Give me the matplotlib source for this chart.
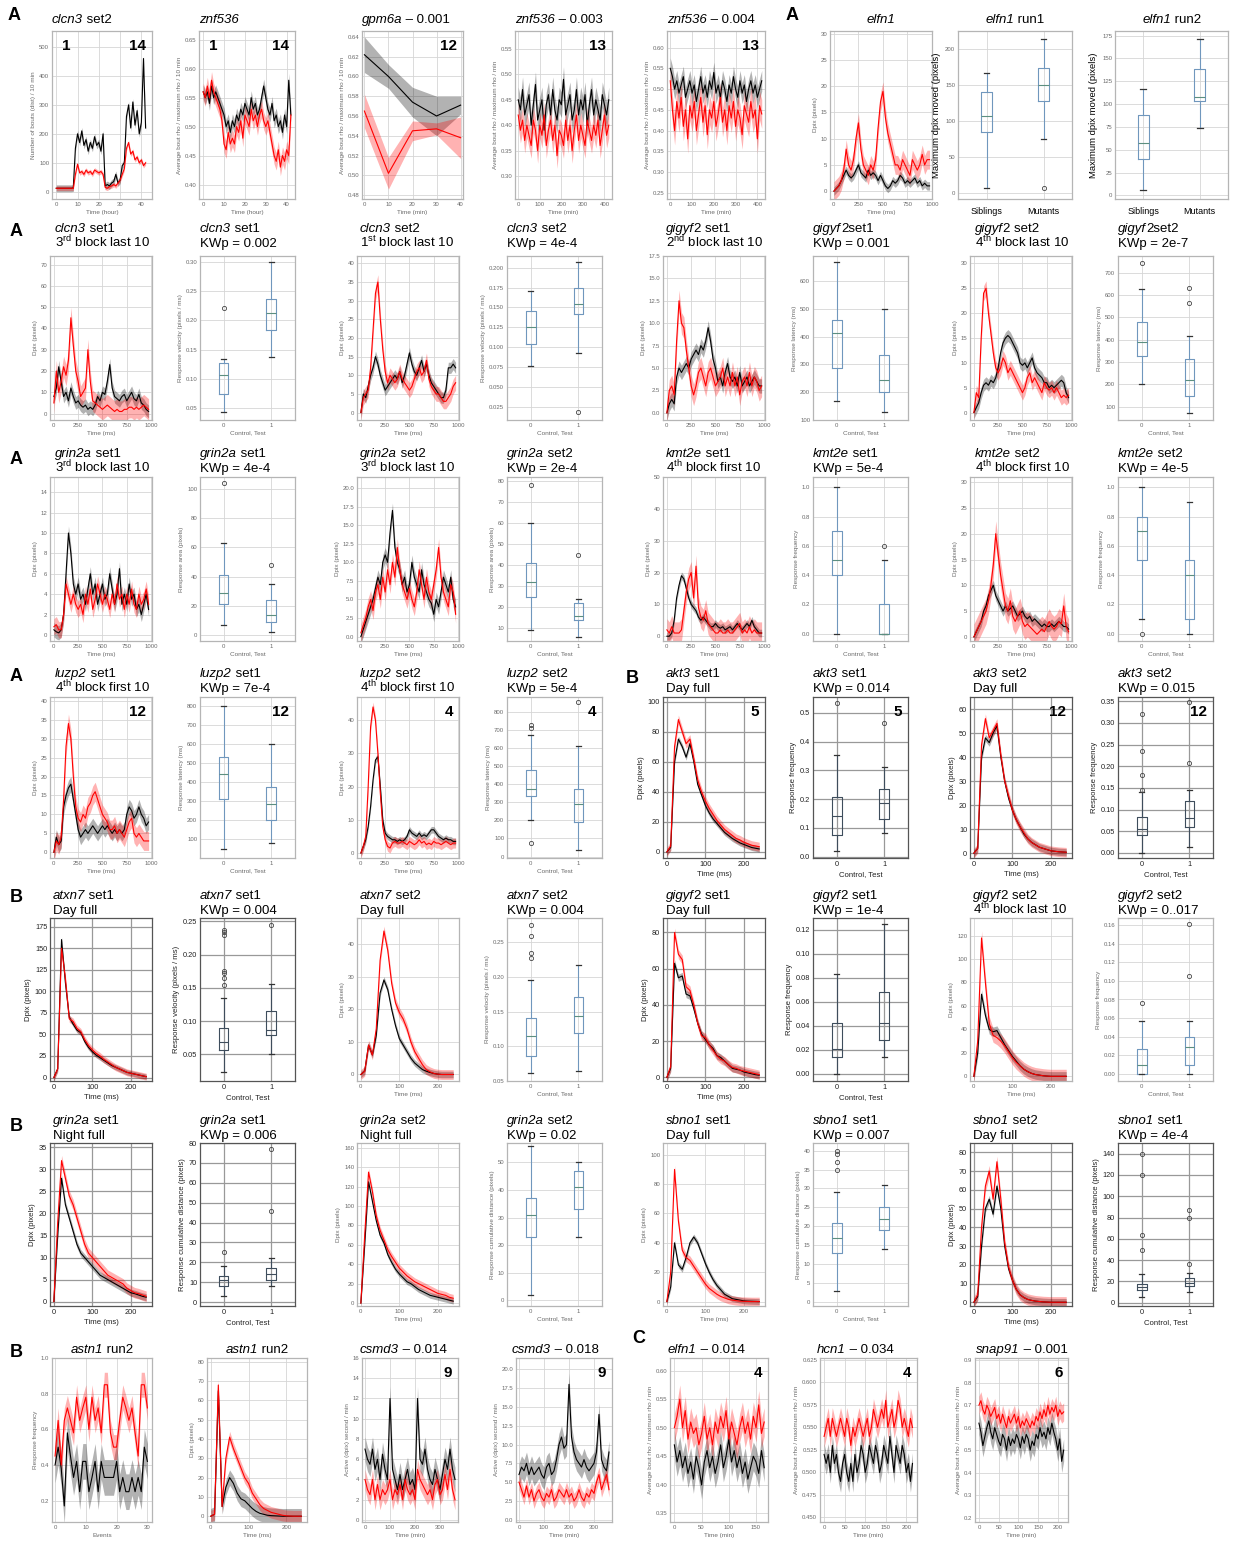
import numpy as np
import matplotlib
matplotlib.use("Agg")
import matplotlib.pyplot as plt

plt.rcParams['font.family'] = ['Liberation Sans', 'DejaVu Sans']
plt.rcParams['mathtext.fontset'] = 'custom'
plt.rcParams['mathtext.rm'] = 'Liberation Sans'
plt.rcParams['mathtext.it'] = 'Liberation Sans:italic'
plt.rcParams['mathtext.bf'] = 'Liberation Sans:bold'

# ---------------- data ----------------
# sampling grids
t_ms = np.arange(0, 1000, 25)      # 1 s response traces
t_day = np.arange(0, 250, 10)      # 250 ms response traces
t_hour = np.arange(0, 43)          # hours
t_min420 = np.arange(0, 430, 10)
t_min360 = np.arange(0, 370, 10)
t_min165 = np.arange(0, 170, 5)
t_min215 = np.arange(0, 220, 5)
t_gpm = [0, 10, 20, 30, 40]
events = np.arange(0, 31)

# row 1
clcn3_set2_blk = [12, 12, 12, 12, 12, 12, 12, 12, 13,
                  150, 200, 170, 210, 160, 180, 140, 170, 150, 190, 160, 170, 140, 200,
                  20, 25, 20, 30, 35, 60, 30, 40,
                  90, 100, 260, 300, 220, 310, 230, 280, 200, 240, 460, 220]
clcn3_set2_red = [12, 12, 12, 12, 12, 12, 12, 12, 12,
                  60, 95, 65, 70, 60, 75, 65, 70, 60, 75, 70, 65, 70, 60,
                  15, 12, 18, 20, 25, 20, 30, 40,
                  60, 80, 150, 170, 130, 140, 110, 120, 100, 110, 90, 100]
znf536_blk = [0.56, 0.55, 0.56, 0.54, 0.57, 0.55, 0.56, 0.55, 0.54, 0.53,
              0.52, 0.50, 0.51, 0.49, 0.51, 0.50, 0.52, 0.51, 0.53, 0.52,
              0.54, 0.53, 0.52, 0.55, 0.53, 0.54, 0.52, 0.53, 0.55, 0.57,
              0.55, 0.53, 0.52, 0.54, 0.51, 0.52, 0.50, 0.51, 0.49, 0.52,
              0.50, 0.58, 0.52]
znf536_red = [0.56, 0.55, 0.57, 0.55, 0.58, 0.56, 0.55, 0.54, 0.53, 0.51,
              0.47, 0.46, 0.49, 0.47, 0.48, 0.47, 0.50, 0.49, 0.51, 0.48,
              0.52, 0.51, 0.50, 0.53, 0.51, 0.52, 0.50, 0.52, 0.53, 0.51,
              0.50, 0.51, 0.49, 0.47, 0.45, 0.44, 0.46, 0.43, 0.45, 0.44,
              0.46, 0.45, 0.52]
gpm6a_blk = [0.622, 0.600, 0.574, 0.560, 0.571]
gpm6a_blk_sem = [0.018, 0.012, 0.015, 0.020, 0.009]
gpm6a_red = [0.565, 0.502, 0.545, 0.547, 0.538]
gpm6a_red_sem = [0.017, 0.016, 0.010, 0.006, 0.021]
znf536_003_blk = [0.45, 0.43, 0.47, 0.42, 0.44, 0.46, 0.40, 0.44, 0.48, 0.41,
                  0.43, 0.45, 0.39, 0.44, 0.46, 0.42, 0.47, 0.43, 0.41, 0.45,
                  0.44, 0.49, 0.42, 0.44, 0.46, 0.41, 0.43, 0.47, 0.42, 0.45,
                  0.43, 0.46, 0.40, 0.44, 0.47, 0.42, 0.45, 0.43, 0.41, 0.46,
                  0.44, 0.42, 0.45]
znf536_003_red = [0.42, 0.39, 0.41, 0.37, 0.40, 0.38, 0.36, 0.41, 0.39, 0.35,
                  0.40, 0.38, 0.42, 0.36, 0.39, 0.41, 0.37, 0.40, 0.34, 0.39,
                  0.38, 0.36, 0.41, 0.37, 0.40, 0.35, 0.39, 0.42, 0.37, 0.40,
                  0.38, 0.36, 0.41, 0.39, 0.37, 0.40, 0.38, 0.41, 0.36, 0.39,
                  0.42, 0.38, 0.40]
znf536_004_blk = [0.55, 0.53, 0.50, 0.52, 0.49, 0.51, 0.53, 0.48, 0.50, 0.52,
                  0.49, 0.51, 0.47, 0.50, 0.53, 0.49, 0.51, 0.48, 0.52, 0.50,
                  0.54, 0.49, 0.51, 0.48, 0.52, 0.50, 0.47, 0.51, 0.49, 0.53,
                  0.50, 0.48, 0.52, 0.49, 0.51, 0.47, 0.50, 0.52, 0.49, 0.51,
                  0.48, 0.50, 0.52]
znf536_004_red = [0.52, 0.45, 0.40, 0.47, 0.43, 0.48, 0.41, 0.45, 0.38, 0.46,
                  0.43, 0.47, 0.40, 0.44, 0.48, 0.42, 0.46, 0.39, 0.45, 0.43,
                  0.47, 0.41, 0.44, 0.48, 0.42, 0.45, 0.40, 0.46, 0.43, 0.47,
                  0.41, 0.45, 0.43, 0.39, 0.46, 0.44, 0.42, 0.47, 0.43, 0.45,
                  0.38, 0.46, 0.44]
elfn1_blk = [0, 0.5, 1, 2, 3, 4, 3, 2.5, 3, 4, 5, 3.5, 3, 2.5, 4, 3, 3.5, 3, 2, 3,
             2, 1, 0.5, 1, 2, 1.5, 2, 3, 2.5, 1.5, 2, 1.5, 2, 2.5, 1.5, 2, 1, 1.5, 1, 1]
elfn1_red = [0, 0.5, 1, 2, 4, 8, 5, 4, 6, 10, 13, 8, 5, 4, 3, 5, 4, 6, 12, 17,
             19, 14, 11, 9, 7, 5, 5, 4, 6, 5, 4, 3, 6, 5, 4, 5, 7, 5, 6, 6]
# box stats: (whisker low, q1, median, q3, whisker high, fliers)
elfn1_run1 = [(7, 85, 107, 140, 167, []), (75, 128, 150, 174, 214, [7])]
elfn1_run2 = [(6, 40, 57, 88, 116, []), (74, 103, 108, 138, 171, [])]

# row 2
clcn3_s1_blk = [8, 12, 22, 15, 8, 10, 6, 12, 8, 5, 6, 4, 3, 4, 2, 3, 2, 4, 8, 6,
                10, 9, 15, 23, 12, 8, 7, 6, 8, 9, 6, 8, 10, 7, 6, 9, 5, 4, 2, 1]
clcn3_s1_red = [5, 20, 10, 15, 22, 18, 25, 45, 32, 20, 15, 8, 10, 12, 30, 15, 6, 5, 4, 3,
                2, 3, 4, 3, 2, 1, 2, 1, 1, 2, 2, 3, 3, 2, 3, 2, 3, 4, 3, 2]
clcn3_s1_kw = [(0.044, 0.075, 0.106, 0.127, 0.135, [0.222]),
               (0.138, 0.183, 0.212, 0.236, 0.300, [])]
clcn3_s2_blk = [0, 5, 4, 7, 10, 12, 15, 13, 10, 8, 6, 7, 8, 9, 10, 9, 11, 8, 10, 13,
                16, 13, 11, 10, 12, 14, 11, 13, 10, 8, 7, 6, 5, 4, 4, 6, 12, 12, 13, 12]
clcn3_s2_red = [0, 4, 5, 6, 12, 22, 32, 35, 25, 17, 11, 8, 10, 9, 8, 9, 11, 9, 8, 7,
                6, 7, 9, 11, 12, 10, 11, 14, 9, 7, 6, 5, 5, 4, 3, 3, 4, 5, 7, 8]
clcn3_s2_kw = [(0.076, 0.104, 0.125, 0.145, 0.171, []),
               (0.093, 0.142, 0.155, 0.175, 0.208, [0.018])]
gigyf2_s1_blk = [0, 1, 1.5, 1, 4, 5, 4.5, 5, 5.5, 5, 6, 6.5, 7, 6.5, 7.5, 7, 8, 9.5, 8, 6,
                 5, 3.5, 4, 3, 4.5, 5.5, 4, 3.5, 4, 3, 4.5, 3, 3.5, 4, 3, 3.5, 4, 3.5, 3, 3]
gigyf2_s1_red = [0, 2.5, 3, 2, 8, 12.5, 10, 9.5, 7, 5, 3, 2, 3, 4.5, 5, 4, 3, 4.5, 5, 4,
                 3, 3.5, 4, 5, 3, 4, 3, 4.5, 3, 4, 2, 3.5, 4, 3, 4.5, 3, 4, 3.5, 2.5, 3]
gigyf2_s1_kw = [(167, 287, 413, 460, 667, []), (127, 200, 243, 335, 500, [])]
gigyf2_s2_blk = [0, 1, 2, 4, 5.5, 6, 5.5, 6.5, 6, 7, 9, 12, 14, 15, 15.5, 15, 14, 13, 12, 10,
                 9.5, 10, 9, 10, 11, 9, 8, 7.5, 7, 6, 6, 5, 5.5, 5, 5.5, 6, 6.5, 6, 4, 3]
gigyf2_s2_red = [0, 4, 3, 15, 24, 25, 20, 16, 12, 9, 8, 9, 11, 10, 8, 9, 8, 7, 6, 5,
                 4, 5, 7, 8, 6, 7, 6, 5, 4, 6, 5, 4.5, 5, 4, 5, 4, 3, 3.5, 3, 3.5]
gigyf2_s2_kw = [(200, 325, 390, 480, 625, [745]), (70, 148, 220, 312, 415, [565, 632])]

# row 3
grin2a_s1_blk = [0.5, 0.3, 0.2, 0.5, 2, 6, 10, 8, 5, 4, 5, 3.5, 4, 3, 4.5, 6, 4, 5, 3, 4,
                 5, 3.5, 4, 6, 4.5, 3, 4, 6.5, 3, 4, 3, 5, 3.5, 4, 2.5, 3, 2, 3, 4, 2.5]
grin2a_s1_red = [0.8, 1, 0.5, 0.5, 2, 5, 4, 3, 4, 3, 2.5, 3, 2, 4, 3, 4.5, 2.5, 3.5, 5, 4,
                 3, 4, 3.5, 2.5, 4, 3, 5, 3.5, 4, 2.5, 4, 3, 4.5, 3, 2.5, 4, 3, 3.5, 4.5, 3]
grin2a_s1_kw = [(7, 21, 29, 41, 63, [104]), (2, 9, 14, 24, 35, [48])]
grin2a_s2_blk = [0, 1, 2, 3, 4, 5, 6.5, 8, 7, 10, 11, 10, 14, 17, 12, 10, 9, 7, 8, 6,
                 7, 10, 8, 7, 6, 9, 7, 6, 5, 4.5, 3, 5, 4, 6, 8, 7, 6, 8, 5, 4]
grin2a_s2_red = [0.5, 1.5, 2.5, 4, 5, 3.5, 6, 7, 5, 8, 6, 9, 7, 10, 8, 12, 9, 7, 6, 5,
                 6.5, 5, 4, 6, 9, 7, 5, 8, 6, 5, 7, 9, 12, 8, 6, 5, 4, 7, 6, 3]
grin2a_s2_kw = [(9, 25, 32, 41, 60, [78]), (6, 14, 16, 22, 24, [45])]
kmt2e_s1_blk = [0, 0, 1, 5, 12, 16, 19, 18, 15, 12, 10, 9, 8, 6, 5, 6, 5, 4, 3, 3,
                4, 3, 2.5, 3, 2, 2.5, 3, 2, 3, 4, 3, 2, 3, 4, 3, 5, 3, 2, 1, 1]
kmt2e_s1_red = [2, 1, 3, 1, 1, 1, 2, 8, 14, 18, 20, 12, 22, 9, 6, 5, 8, 4, 3, 2,
                1, 1, 2, 1, 1, 2, 1, 1, 2, 3, 4, 1, 2, 1, 3, 1, 2, 1, 1, 1]
kmt2e_s1_kw = [(0, 0.4, 0.5, 0.7, 1.0, []), (0, 0, 0, 0.2, 0.5, [0.6])]
kmt2e_s2_blk = [0, 1, 2, 3, 5, 6, 8, 9, 10, 8, 7, 6, 5, 6, 5, 5.5, 6, 5, 4, 4.5,
                5, 4, 3.5, 4, 3, 3.5, 3, 2.5, 2, 2.5, 2, 2, 2.5, 2, 2.5, 3, 2.5, 2, 2, 1.5]
kmt2e_s2_red = [0, 1, 2, 3, 4, 5, 7, 10, 14, 20, 16, 12, 9, 6, 5, 7, 4, 3, 4, 5,
                3, 2, 2.5, 2, 1.5, 1, 0.5, 1, 1.5, 1, 2, 3, 2, 1.5, 2, 3, 2.5, 6, 2, 1]
kmt2e_s2_kw = [(0.1, 0.5, 0.7, 0.8, 1.0, [0.0]), (0, 0.1, 0.4, 0.5, 0.9, [])]

# row 4
luzp2_s1_blk = [0, 4, 2, 3, 12, 15, 17, 18, 14, 10, 6, 4, 5, 6, 5, 6, 7, 6, 5, 6,
                7, 6, 7, 6, 5, 6, 5, 6, 5, 6, 10, 12, 11, 9, 10, 12, 10, 9, 7, 8]
luzp2_s1_red = [0, 3, 2, 4, 14, 28, 34, 30, 20, 12, 9, 8, 10, 9, 12, 13, 15, 16, 14, 12,
                10, 9, 8, 6, 6, 7, 5, 6, 5, 4, 6, 8, 9, 5, 4, 5, 4, 3, 3, 3]
luzp2_s1_kw = [(45, 310, 445, 535, 805, []), (80, 203, 285, 375, 600, [])]
luzp2_s2_blk = [0, 2, 4, 8, 14, 22, 28, 29, 20, 10, 6, 5, 4.5, 4, 4, 3.5, 4, 3.5, 4, 5,
                7, 6, 5.5, 5, 6, 5, 5.5, 5, 6, 7, 7, 6, 5, 4.5, 4, 4.5, 4, 4, 3.5, 3.5]
luzp2_s2_red = [0, 2, 5, 20, 38, 44, 40, 30, 18, 8, 4, 2, 1.5, 3, 3.5, 3, 3, 3.5, 3, 2.5,
                3.5, 3, 2.5, 3, 4, 3, 3.5, 2.5, 3, 2.5, 3.5, 3, 3, 2.5, 3, 3.5, 3, 2.5, 3, 3]
luzp2_s2_kw = [(200, 335, 375, 478, 670, [75, 710, 725]), (35, 188, 290, 375, 610, [850])]
akt3_s1_blk = [0, 3, 60, 75, 70, 63, 72, 60, 45, 38, 31, 26, 22, 19, 16, 13, 11, 9, 7.5, 6,
               5, 4, 3, 2.5, 2]
akt3_s1_red = [0, 4, 70, 88, 80, 72, 75, 62, 48, 40, 34, 29, 25, 21, 18, 15, 13, 11, 9, 8,
               6.5, 5.5, 4.5, 4, 3.5]
akt3_s1_kw = [(0.02, 0.075, 0.14, 0.207, 0.355, [0.535]),
              (0.083, 0.13, 0.188, 0.236, 0.311, [0.465])]
akt3_s2_blk = [0, 2, 40, 48, 46, 50, 53, 40, 30, 23, 18, 14, 11, 8, 6, 4.5, 3.5, 2.5, 2, 1.5,
               1, 0.8, 0.6, 0.5, 0.4]
akt3_s2_red = [0, 2, 45, 56, 48, 51, 54, 41, 30, 24, 18, 14, 11, 8.5, 6, 4.5, 3.5, 2.5, 2, 1.5,
               1, 0.8, 0.6, 0.5, 0.4]
akt3_s2_kw = [(0, 0.041, 0.055, 0.083, 0.14, [0.145, 0.18, 0.235, 0.32]),
              (0.014, 0.06, 0.08, 0.12, 0.145, [0.208, 0.348])]

# row 5
atxn7_s1_blk = [0, 10, 160, 110, 70, 62, 55, 52, 42, 35, 30, 26, 23, 20, 17, 14, 12, 10, 8, 6,
                5, 4, 3, 2, 1]
atxn7_s1_red = [0, 10, 150, 115, 68, 65, 57, 53, 44, 37, 32, 28, 25, 21, 18, 15, 12, 10, 8, 6,
                5, 4, 3, 2, 1]
atxn7_s1_kw = [(0.023, 0.056, 0.069, 0.09, 0.135, [0.155, 0.165, 0.172, 0.176, 0.23, 0.234, 0.237]),
               (0.05, 0.079, 0.087, 0.115, 0.156, [0.245])]
atxn7_s2_blk = [0, 1, 9, 6, 12, 25, 29, 26, 20, 15, 11, 9, 7, 5, 3.5, 2.5, 1.5, 1, 0.6, 0.3,
                0.1, 0, 0, 0, 0]
atxn7_s2_red = [0, 1, 9, 6, 14, 35, 44, 38, 28, 22, 19, 17, 14, 10, 7, 5, 3, 1.5, 0.8, 0.3,
                0.1, 0, 0, 0, 0]
atxn7_s2_kw = [(0.062, 0.086, 0.115, 0.141, 0.195, [0.227, 0.234, 0.259, 0.275]),
               (0.065, 0.119, 0.143, 0.171, 0.217, [])]
gigyf2_d1_blk = [0, 5, 63, 55, 56, 46, 45, 38, 30, 24, 21, 18, 16, 12, 11, 9, 7, 5, 4.5, 4,
                 3, 2.5, 2, 1.5, 1.2]
gigyf2_d1_red = [0, 6, 80, 68, 65, 50, 48, 40, 30, 23, 22, 18, 15, 12, 10, 9, 7, 5.5, 5, 4,
                 3.5, 3, 2.5, 2, 1.5]
gigyf2_d1_kw = [(0, 0.014, 0.021, 0.042, 0.083, []), (0.014, 0.028, 0.042, 0.068, 0.125, [])]
gigyf2_d2_blk = [0, 20, 70, 52, 40, 38, 39, 33, 27, 22, 17, 13, 9, 6, 4, 2.5, 1.5, 1, 0.5, 0.2,
                 0, 0, 0, 0, 0]
gigyf2_d2_red = [0, 30, 118, 80, 45, 35, 33, 30, 26, 21, 16, 12, 9, 6, 4, 2.5, 1.5, 1, 0.5, 0.2,
                 0, 0, 0, 0, 0]
gigyf2_d2_kw = [(0, 0, 0.009, 0.027, 0.057, [0.076]), (0, 0.009, 0.029, 0.04, 0.057, [0.105, 0.162])]

# row 6
grin2a_n1_blk = [0, 15, 28, 22, 19, 16, 13, 11, 10, 9, 8, 7, 6, 5.5, 5, 4.5, 4, 3.5, 3, 2.5,
                 2, 1.8, 1.5, 1.2, 1]
grin2a_n1_red = [0, 18, 32, 28, 24, 22, 19, 16, 13, 11, 10, 9, 8, 7, 6, 5.5, 5, 4.5, 4, 3,
                 2.5, 2, 1.8, 1.5, 1.2]
grin2a_n1_kw = [(3, 8, 11, 13, 18, [25]), (8, 11, 14, 17, 22, [46, 77])]
grin2a_n2_blk = [0, 60, 125, 105, 85, 70, 62, 50, 42, 35, 30, 26, 22, 20, 17, 14, 12, 10, 8, 7,
                 6, 5, 4, 3, 2]
grin2a_n2_red = [0, 70, 135, 115, 90, 75, 65, 55, 48, 42, 36, 32, 28, 25, 22, 20, 18, 16, 14, 12,
                 10, 9, 8, 6, 5]
grin2a_n2_kw = [(2, 23, 31, 37, 56, []), (23, 33, 41, 47, 50, [])]
sbno1_s1_blk = [0, 10, 40, 25, 22, 30, 40, 44, 40, 33, 26, 20, 15, 11, 8, 5, 3.5, 2, 1.5, 1,
                0.5, 0.3, 0.2, 0.1, 0]
sbno1_s1_red = [0, 20, 90, 55, 35, 30, 28, 24, 20, 16, 12, 9, 7, 5, 3.5, 2.5, 1.5, 1, 0.6, 0.3,
                0.2, 0.1, 0, 0, 0]
sbno1_s1_kw = [(3, 13, 17, 21, 29, [35, 37, 39, 40]), (14, 19, 22, 25, 31, [])]
sbno1_s2_blk = [0, 3, 30, 50, 55, 47, 62, 50, 30, 18, 12, 7, 4, 2.5, 1.5, 1, 0.6, 0.4, 0.2, 0.1,
                0, 0, 0, 0, 0]
sbno1_s2_red = [0, 4, 40, 62, 70, 55, 75, 55, 32, 19, 12, 7, 4, 2.5, 1.5, 1, 0.6, 0.4, 0.2, 0.1,
                0, 0, 0, 0, 0]
sbno1_s2_kw = [(5, 12, 15, 18, 27, [50, 64, 120, 140]), (10, 16, 19, 23, 28, [36, 80, 87])]

# row 7
astn1_ev_blk = [0.40, 0.50, 0.38, 0.17, 0.58, 0.45, 0.33, 0.42, 0.25, 0.42,
                0.42, 0.25, 0.33, 0.42, 0.25, 0.42, 0.33, 0.33, 0.33, 0.33,
                0.42, 0.25, 0.33, 0.25, 0.25, 0.33, 0.25, 0.33, 0.25, 0.50, 0.42]
astn1_ev_red = [0.45, 0.65, 0.40, 0.65, 0.72, 0.65, 0.58, 0.78, 0.65, 0.72,
                0.78, 0.60, 0.78, 0.65, 0.72, 0.58, 0.85, 0.85, 0.58, 0.50,
                0.50, 0.65, 0.78, 0.72, 0.65, 0.72, 0.58, 0.45, 0.85, 0.85, 0.72]
astn1_dp_blk = [0, 1, 65, 5, 15, 20, 17, 12, 9, 8, 6, 4, 2.5, 1.5, 1, 0.5, 0.3, 0.2, 0.1, 0,
                0, 0, 0, 0, 0]
astn1_dp_red = [0, 1, 68, 5, 30, 41, 35, 30, 25, 20, 17, 12, 9, 6, 4, 3, 2, 1.5, 1, 0.5,
                0.2, 0.1, 0, 0, 0]
csmd3_014_blk = [7, 6, 5.5, 7, 5, 6, 4, 6.5, 5, 4, 12, 5, 4, 3, 4.5, 3, 4, 5, 3.5, 4,
                 3, 12, 6, 5.5, 7, 5, 4, 3.5, 5, 4, 3, 4.5, 6, 5, 7, 5, 4]
csmd3_014_red = [4, 3, 2.5, 4, 2, 3.5, 2, 3, 2.5, 3, 4, 2, 3, 2.5, 3.5, 2, 4, 3, 2.5, 3,
                 2, 5, 4, 3.5, 3, 2.5, 3, 2, 3.5, 4, 2.5, 3, 4.5, 3, 5, 3, 2]
csmd3_018_blk = [6, 7, 6.5, 7.5, 6, 7, 6, 6.5, 7, 6, 5.5, 7, 7.5, 6, 6.5, 8, 10, 11, 9.5, 10,
                 18, 11, 9, 8, 7.5, 7, 8, 7, 6.5, 7, 7.5, 9, 14, 8, 7, 6.5, 9]
csmd3_018_red = [5, 4, 3, 4.5, 3, 4, 2.5, 3.5, 4, 3, 2.5, 3.5, 3, 4, 2.5, 3, 4, 3.5, 3, 4,
                 3, 3.5, 2.5, 3, 4, 3, 2.5, 3.5, 3, 4, 3.5, 5, 6, 4, 5, 6, 4]
elfn1_014_blk = [0.47, 0.44, 0.46, 0.43, 0.45, 0.42, 0.44, 0.41, 0.45, 0.43,
                 0.40, 0.44, 0.46, 0.43, 0.45, 0.42, 0.44, 0.47, 0.43, 0.45,
                 0.48, 0.44, 0.46, 0.43, 0.45, 0.42, 0.44, 0.41, 0.43, 0.45,
                 0.44, 0.42, 0.46, 0.43]
elfn1_014_red = [0.50, 0.52, 0.55, 0.50, 0.53, 0.48, 0.51, 0.49, 0.50, 0.47,
                 0.49, 0.52, 0.48, 0.50, 0.47, 0.51, 0.49, 0.52, 0.50, 0.53,
                 0.48, 0.51, 0.49, 0.47, 0.50, 0.52, 0.49, 0.51, 0.48, 0.52,
                 0.50, 0.54, 0.49, 0.51]
hcn1_blk = [0.52, 0.51, 0.52, 0.50, 0.53, 0.51, 0.52, 0.50, 0.49, 0.51,
            0.52, 0.50, 0.49, 0.51, 0.49, 0.52, 0.50, 0.51, 0.53, 0.52,
            0.50, 0.51, 0.53, 0.52, 0.51, 0.53, 0.52, 0.50, 0.51, 0.53,
            0.52, 0.51, 0.54, 0.52, 0.50, 0.53, 0.52, 0.51, 0.53, 0.52,
            0.50, 0.51, 0.49, 0.51]
hcn1_red = [0.54, 0.55, 0.56, 0.54, 0.56, 0.55, 0.54, 0.55, 0.56, 0.55,
            0.54, 0.56, 0.55, 0.53, 0.55, 0.54, 0.55, 0.56, 0.55, 0.54,
            0.55, 0.56, 0.54, 0.55, 0.57, 0.56, 0.55, 0.56, 0.57, 0.56,
            0.58, 0.55, 0.56, 0.57, 0.55, 0.56, 0.58, 0.57, 0.55, 0.56,
            0.55, 0.54, 0.56, 0.55]
snap91_blk = [0.62, 0.58, 0.52, 0.56, 0.60, 0.63, 0.58, 0.55, 0.60, 0.57,
              0.54, 0.52, 0.57, 0.55, 0.50, 0.56, 0.52, 0.55, 0.53, 0.57,
              0.55, 0.51, 0.56, 0.53, 0.57, 0.55, 0.50, 0.54, 0.52, 0.57,
              0.55, 0.60, 0.56, 0.58, 0.55, 0.60, 0.57, 0.62, 0.58, 0.55,
              0.50, 0.55, 0.45, 0.50]
snap91_red = [0.70, 0.72, 0.68, 0.66, 0.70, 0.68, 0.65, 0.67, 0.69, 0.64,
              0.66, 0.62, 0.66, 0.63, 0.60, 0.65, 0.62, 0.64, 0.66, 0.62,
              0.65, 0.60, 0.63, 0.61, 0.64, 0.62, 0.60, 0.63, 0.61, 0.65,
              0.63, 0.67, 0.64, 0.68, 0.65, 0.70, 0.66, 0.69, 0.67, 0.70,
              0.65, 0.68, 0.66, 0.67]

# ---------------- layout ----------------
W, H = 1233, 1548
fig = plt.figure(figsize=(W / 100, H / 100), dpi=100)
renderer = fig.canvas.get_renderer()

# title baseline, axes top, axes bottom (pixels from top)
ROW = {1: (23, 31, 199), 2: (232, 256, 420), 3: (457, 477, 641), 4: (677, 697, 858),
       5: (899, 918, 1081), 6: (1124, 1143, 1306), 7: (1353, 1358, 1522)}
LINE_X = [50, 357, 663, 970]
BOX_X = [200, 507, 813, 1118]
LW, BW = 102, 95
TFS = 9.5


def add_axes(x0, width, row):
    _, top, bot = ROW[row]
    return fig.add_axes([x0 / W, 1 - bot / H, width / W, (bot - top) / H])


def add_title(x, row, gene, rest='', second=None, ha='left'):
    # first line: italic gene name followed by plain text
    y = 1 - ROW[row][0] / H
    t1 = fig.text(0, y, gene, fontsize=TFS, style='italic', va='baseline')
    t2 = fig.text(0, y, rest, fontsize=TFS, va='baseline')
    w1 = t1.get_window_extent(renderer).width
    w2 = t2.get_window_extent(renderer).width if rest else 0
    x0 = x - (w1 + w2) / 2 if ha == 'center' else x
    t1.set_x(x0 / W)
    t2.set_x((x0 + w1) / W)
    if second:
        fig.text(x / W, 1 - (ROW[row][0] + 15) / H, second, fontsize=TFS, va='baseline')


def style(ax, dark):
    if dark:
        gc, sc, tc, ts = '#999999', '#555555', '#222222', 5.3
    else:
        gc, sc, tc, ts = '#d6d6d6', '#b5b5b5', '#6a6a6a', 4.3
    ax.grid(True, color=gc, lw=0.9 if dark else 0.6)
    ax.set_axisbelow(True)
    for s in ax.spines.values():
        s.set_color(sc)
        s.set_linewidth(0.9)
    ax.tick_params(labelsize=ts, colors=tc, length=0, pad=2)
    return tc, ts + 0.3


def put_num(ax, s, left=False):
    if left:
        ax.text(0.1, 0.95, s, transform=ax.transAxes, ha='left', va='top',
                fontsize=11, fontweight='bold')
    else:
        ax.text(0.94, 0.95, s, transform=ax.transAxes, ha='right', va='top',
                fontsize=11, fontweight='bold')


def trace_panel(x0, row, t, blk, red, eb, er, xlim, xticks, ylim, yticks,
                ylabel='Dpix (pixels)', xlabel='Time (ms)', dark=False, num=None, width=LW):
    ax = add_axes(x0, width, row)
    tc, ls = style(ax, dark)
    blk = np.asarray(blk, float)
    red = np.asarray(red, float)
    ax.fill_between(t, blk - np.asarray(eb), blk + np.asarray(eb), color='black', alpha=0.3, lw=0)
    ax.fill_between(t, red - np.asarray(er), red + np.asarray(er), color='red', alpha=0.3, lw=0)
    ax.plot(t, blk, color='black', lw=0.8)
    ax.plot(t, red, color='red', lw=0.8)
    ax.set_xlim(*xlim)
    ax.set_ylim(*ylim)
    ax.set_xticks(xticks)
    ax.set_yticks(yticks)
    ax.set_ylabel(ylabel, fontsize=ls, color=tc, labelpad=2)
    ax.set_xlabel(xlabel, fontsize=ls, color=tc, labelpad=2)
    if num:
        put_num(ax, num)
    return ax


def box_panel(x0, row, stats, ylim, yticks, ylabel, dark=False, num=None,
              labels=('0', '1'), xlabel='Control, Test', width=BW, big=False):
    ax = add_axes(x0, width, row)
    tc, ls = style(ax, dark)
    c = '#3e4d5c' if dark else '#7097bd'
    mc = '#3e4d5c' if dark else '#5c8f80'
    bx = [dict(whislo=lo, q1=q1, med=md, q3=q3, whishi=hi, fliers=fl)
          for lo, q1, md, q3, hi, fl in stats]
    ax.bxp(bx, positions=[1, 2], widths=0.2, capwidths=0.1,
           boxprops=dict(color=c, lw=0.8), whiskerprops=dict(color=c, lw=0.8),
           capprops=dict(color='#333333', lw=0.9), medianprops=dict(color=mc, lw=0.8),
           flierprops=dict(marker='o', markerfacecolor='none', markeredgecolor='#444444',
                           markersize=3, markeredgewidth=0.6))
    ax.set_xlim(0.5, 2.5)
    ax.set_ylim(*ylim)
    ax.set_yticks(yticks)
    ax.set_xticks([1, 2], labels)
    if big:
        ax.tick_params(axis='x', labelsize=6.5, colors='black', pad=6)
        ax.set_ylabel(ylabel, fontsize=6.8, color='black', labelpad=3)
    else:
        ax.set_ylabel(ylabel, fontsize=ls, color=tc, labelpad=2)
        ax.set_xlabel(xlabel, fontsize=ls, color=tc, labelpad=2)
    if num:
        put_num(ax, num)
    return ax


def letter(x, y, s):
    fig.text(x / W, 1 - y / H, s, fontsize=13, fontweight='bold', va='baseline')


ms_lim, ms_ticks = (-40, 1010), [0, 250, 500, 750, 1000]
d_lim, d_ticks = (-10, 255), [0, 100, 200]

# ---------------- row 1 ----------------
letter(8, 20, 'A')
letter(786, 20, 'A')
ax = trace_panel(52, 1, t_hour, clcn3_set2_blk, clcn3_set2_red, 12, 8, (-2, 45),
                 [0, 10, 20, 30, 40], (-25, 555), range(0, 501, 100),
                 ylabel='Number of bouts (dist) / 10 min', xlabel='Time (hour)', width=100)
put_num(ax, '1', left=True)
put_num(ax, '14')
add_title(52, 1, 'clcn3', ' set2')
ax = trace_panel(199, 1, t_hour, znf536_blk, znf536_red, 0.012, 0.015, (-2, 44),
                 [0, 10, 20, 30, 40], (0.375, 0.665), np.arange(0.40, 0.66, 0.05),
                 ylabel='Average bout rho / maximum rho / 10 min', xlabel='Time (hour)', width=96)
put_num(ax, '1', left=True)
put_num(ax, '14')
add_title(199, 1, 'znf536')
trace_panel(362, 1, t_gpm, gpm6a_blk, gpm6a_red, gpm6a_blk_sem, gpm6a_red_sem, (-1, 41),
            [0, 10, 20, 30, 40], (0.476, 0.646), np.arange(0.48, 0.645, 0.02),
            ylabel='Average bout rho / maximum rho / 10 min', xlabel='Time (min)', num='12', width=101)
add_title(362, 1, 'gpm6a', ' – 0.001')
trace_panel(515, 1, t_min420, znf536_003_blk, znf536_003_red, 0.025, 0.025, (-15, 435),
            [0, 100, 200, 300, 400], (0.255, 0.585), np.arange(0.30, 0.56, 0.05),
            ylabel='Average bout rho / maximum rho / min', xlabel='Time (min)', num='13', width=97)
add_title(515, 1, 'znf536', ' – 0.003')
trace_panel(667, 1, t_min420, znf536_004_blk, znf536_004_red, 0.025, 0.035, (-15, 435),
            [0, 100, 200, 300, 400], (0.235, 0.64), np.arange(0.25, 0.61, 0.05),
            ylabel='Average bout rho / maximum rho / min', xlabel='Time (min)', num='13', width=98)
add_title(667, 1, 'znf536', ' – 0.004')
trace_panel(830, 1, t_ms, elfn1_blk, elfn1_red, 0.8, 1.8, (-40, 1000), ms_ticks,
            (-1.5, 30.5), range(0, 31, 5), width=102)
add_title(881, 1, 'elfn1', ha='center')
box_panel(958, 1, elfn1_run1, (-8, 225), range(0, 201, 50), 'Maximum dpix moved (pixels)',
          labels=('Siblings', 'Mutants'), width=114, big=True)
add_title(1015, 1, 'elfn1', ' run1', ha='center')
box_panel(1115, 1, elfn1_run2, (-4, 180), range(0, 176, 25), 'Maximum dpix moved (pixels)',
          labels=('Siblings', 'Mutants'), width=113, big=True)
add_title(1172, 1, 'elfn1', ' run2', ha='center')

# ---------------- row 2 ----------------
letter(10, 236, 'A')
trace_panel(LINE_X[0], 2, t_ms, clcn3_s1_blk, clcn3_s1_red, 3, 5, ms_lim, ms_ticks,
            (-3, 74), range(0, 71, 10))
add_title(LINE_X[0] + 5, 2, 'clcn3', ' set1', r'3$^{\rm rd}$ block last 10')
box_panel(BOX_X[0], 2, clcn3_s1_kw, (0.03, 0.31), np.arange(0.05, 0.31, 0.05),
          'Response velocity (pixels / ms)')
add_title(BOX_X[0], 2, 'clcn3', ' set1', 'KWp = 0.002')
trace_panel(LINE_X[1], 2, t_ms, clcn3_s2_blk, clcn3_s2_red, 1.5, 2, ms_lim, ms_ticks,
            (-2, 42), range(0, 41, 5))
add_title(LINE_X[1] + 3, 2, 'clcn3', ' set2', r'1$^{\rm st}$ block last 10')
box_panel(BOX_X[1], 2, clcn3_s2_kw, (0.008, 0.215), np.arange(0.025, 0.201, 0.025),
          'Response velocity (pixels / ms)')
add_title(BOX_X[1], 2, 'clcn3', ' set2', 'KWp = 4e-4')
trace_panel(LINE_X[2], 2, t_ms, gigyf2_s1_blk, gigyf2_s1_red, 0.8, 1.2, ms_lim, ms_ticks,
            (-0.8, 17.5), np.arange(0, 17.6, 2.5))
add_title(LINE_X[2] + 3, 2, 'gigyf', '2 set1', r'2$^{\rm nd}$ block last 10')
box_panel(BOX_X[2], 2, gigyf2_s1_kw, (100, 690), range(100, 601, 100), 'Response latency (ms)')
add_title(BOX_X[2], 2, 'gigyf', '2set1', 'KWp = 0.001')
trace_panel(LINE_X[3], 2, t_ms, gigyf2_s2_blk, gigyf2_s2_red, 1.2, 1.5, ms_lim, ms_ticks,
            (-1.5, 31.5), range(0, 31, 5))
add_title(LINE_X[3] + 5, 2, 'gigyf', '2 set2', r'4$^{\rm th}$ block last 10')
box_panel(BOX_X[3], 2, gigyf2_s2_kw, (40, 775), range(100, 701, 100), 'Response latency (ms)')
add_title(BOX_X[3], 2, 'gigyf', '2set2', 'KWp = 2e-7')

# ---------------- row 3 ----------------
letter(10, 464, 'A')
trace_panel(LINE_X[0], 3, t_ms, grin2a_s1_blk, grin2a_s1_red, 0.7, 0.8, ms_lim, ms_ticks,
            (-0.6, 15.5), range(0, 15, 2))
add_title(LINE_X[0] + 5, 3, 'grin2a', ' set1', r'3$^{\rm rd}$ block last 10')
box_panel(BOX_X[0], 3, grin2a_s1_kw, (-4, 108), range(0, 101, 20), 'Response area (pixels)')
add_title(BOX_X[0], 3, 'grin2a', ' set1', 'KWp = 4e-4')
trace_panel(LINE_X[1], 3, t_ms, grin2a_s2_blk, grin2a_s2_red, 1, 1.2, ms_lim, ms_ticks,
            (-0.6, 21.5), np.arange(0, 20.1, 2.5))
add_title(LINE_X[1] + 3, 3, 'grin2a', ' set2', r'3$^{\rm rd}$ block last 10')
box_panel(BOX_X[1], 3, grin2a_s2_kw, (4, 82), range(10, 81, 10), 'Response area (pixels)')
add_title(BOX_X[1], 3, 'grin2a', ' set2', 'KWp = 2e-4')
trace_panel(LINE_X[2], 3, t_ms, kmt2e_s1_blk, kmt2e_s1_red, 1.2, 3.5, ms_lim, ms_ticks,
            (-1.5, 50), range(0, 51, 10))
add_title(LINE_X[2] + 3, 3, 'kmt2e', ' set1', r'4$^{\rm th}$ block first 10')
box_panel(BOX_X[2], 3, kmt2e_s1_kw, (-0.05, 1.07), np.arange(0, 1.01, 0.2), 'Response frequency')
add_title(BOX_X[2], 3, 'kmt2e', ' set1', 'KWp = 5e-4')
trace_panel(LINE_X[3], 3, t_ms, kmt2e_s2_blk, kmt2e_s2_red, 1, 2.5, ms_lim, ms_ticks,
            (-0.8, 31), range(0, 31, 5))
add_title(LINE_X[3] + 5, 3, 'kmt2e', ' set2', r'4$^{\rm th}$ block first 10')
box_panel(BOX_X[3], 3, kmt2e_s2_kw, (-0.05, 1.07), np.arange(0, 1.01, 0.2), 'Response frequency')
add_title(BOX_X[3], 3, 'kmt2e', ' set2', 'KWp = 4e-5')

# ---------------- row 4 ----------------
letter(10, 681, 'A')
letter(626, 683, 'B')
trace_panel(LINE_X[0], 4, t_ms, luzp2_s1_blk, luzp2_s1_red, 2, 2.5, ms_lim, ms_ticks,
            (-1.5, 41), range(0, 41, 5), num='12')
add_title(LINE_X[0] + 5, 4, 'luzp2', ' set1', r'4$^{\rm th}$ block first 10')
box_panel(BOX_X[0], 4, luzp2_s1_kw, (0, 850), range(100, 801, 100), 'Response latency (ms)', num='12')
add_title(BOX_X[0], 4, 'luzp2', ' set1', 'KWp = 7e-4')
trace_panel(LINE_X[1], 4, t_ms, luzp2_s2_blk, luzp2_s2_red, 1, 1.5, ms_lim, ms_ticks,
            (-1.5, 47), range(0, 41, 10), num='4')
add_title(LINE_X[1] + 3, 4, 'luzp2', ' set2', r'4$^{\rm th}$ block first 10')
box_panel(BOX_X[1], 4, luzp2_s2_kw, (-8, 880), range(0, 801, 100), 'Response latency (ms)', num='4')
add_title(BOX_X[1], 4, 'luzp2', ' set2', 'KWp = 5e-4')
trace_panel(LINE_X[2], 4, t_day, akt3_s1_blk, akt3_s1_red, 2, 3, d_lim, d_ticks,
            (-4, 103), range(0, 101, 20), dark=True, num='5')
add_title(LINE_X[2] + 3, 4, 'akt3', ' set1', 'Day full')
box_panel(BOX_X[2], 4, akt3_s1_kw, (-0.005, 0.555), np.arange(0, 0.51, 0.1), 'Response frequency',
          dark=True, num='5')
add_title(BOX_X[2], 4, 'akt3', ' set1', 'KWp = 0.014')
trace_panel(LINE_X[3], 4, t_day, akt3_s2_blk, akt3_s2_red, 1.5, 2, d_lim, d_ticks,
            (-2, 65), range(0, 61, 10), dark=True, num='12')
add_title(LINE_X[3] + 3, 4, 'akt3', ' set2', 'Day full')
box_panel(BOX_X[3], 4, akt3_s2_kw, (-0.012, 0.36), np.arange(0, 0.351, 0.05), 'Response frequency',
          dark=True, num='12')
add_title(BOX_X[3], 4, 'akt3', ' set2', 'KWp = 0.015')

# ---------------- row 5 ----------------
letter(10, 902, 'B')
trace_panel(LINE_X[0], 5, t_day, atxn7_s1_blk, atxn7_s1_red, 3, 4, d_lim, d_ticks,
            (-4, 185), range(0, 176, 25), dark=True)
add_title(LINE_X[0] + 3, 5, 'atxn7', ' set1', 'Day full')
box_panel(BOX_X[0], 5, atxn7_s1_kw, (0.01, 0.255), np.arange(0.05, 0.251, 0.05),
          'Response velocity (pixels / ms)', dark=True)
add_title(BOX_X[0], 5, 'atxn7', ' set1', 'KWp = 0.004')
trace_panel(LINE_X[1], 5, t_day, atxn7_s2_blk, atxn7_s2_red, 1, 1.5, d_lim, d_ticks,
            (-2, 48), range(0, 41, 10))
add_title(LINE_X[1] + 3, 5, 'atxn7', ' set2', 'Day full')
box_panel(BOX_X[1], 5, atxn7_s2_kw, (0.05, 0.285), np.arange(0.05, 0.251, 0.05),
          'Response velocity (pixels / ms)')
add_title(BOX_X[1], 5, 'atxn7', ' set2', 'KWp = 0.004')
trace_panel(LINE_X[2], 5, t_day, gigyf2_d1_blk, gigyf2_d1_red, 2, 2.5, d_lim, d_ticks,
            (-2, 88), range(0, 81, 20), dark=True)
add_title(LINE_X[2] + 3, 5, 'gigyf', '2 set1', 'Day full')
box_panel(BOX_X[2], 5, gigyf2_d1_kw, (-0.006, 0.13), np.arange(0, 0.121, 0.02), 'Response frequency',
          dark=True)
add_title(BOX_X[2], 5, 'gigyf', '2 set1', 'KWp = 1e-4')
trace_panel(LINE_X[3], 5, t_day, gigyf2_d2_blk, gigyf2_d2_red, 4, 6, d_lim, d_ticks,
            (-4, 135), range(0, 121, 20))
add_title(LINE_X[3] + 3, 5, 'gigyf', '2 set2', r'4$^{\rm th}$ block last 10')
box_panel(BOX_X[3], 5, gigyf2_d2_kw, (-0.008, 0.168), np.arange(0, 0.161, 0.02), 'Response frequency')
add_title(BOX_X[3], 5, 'gigyf', '2 set2', 'KWp = 0..017')

# ---------------- row 6 ----------------
letter(10, 1131, 'B')
trace_panel(LINE_X[0], 6, t_day, grin2a_n1_blk, grin2a_n1_red, 0.8, 1.2, d_lim, d_ticks,
            (-1, 36), range(0, 36, 5), dark=True)
add_title(LINE_X[0] + 3, 6, 'grin2a', ' set1', 'Night full')
box_panel(BOX_X[0], 6, grin2a_n1_kw, (-2, 80), range(0, 81, 10),
          'Response cumulative distance (pixels)', dark=True)
add_title(BOX_X[0], 6, 'grin2a', ' set1', 'KWp = 0.006')
trace_panel(LINE_X[1], 6, t_day, grin2a_n2_blk, grin2a_n2_red, 3, 4, d_lim, d_ticks,
            (-3, 165), range(0, 161, 20))
add_title(LINE_X[1] + 3, 6, 'grin2a', ' set2', 'Night full')
box_panel(BOX_X[1], 6, grin2a_n2_kw, (-2, 57), range(0, 51, 10), 'Response cumulative distance (pixels)')
add_title(BOX_X[1], 6, 'grin2a', ' set2', 'KWp = 0.02')
trace_panel(LINE_X[2], 6, t_day, sbno1_s1_blk, sbno1_s1_red, 2, 3, d_lim, d_ticks,
            (-3, 108), range(0, 101, 20))
add_title(LINE_X[2] + 3, 6, 'sbno1', ' set1', 'Day full')
box_panel(BOX_X[2], 6, sbno1_s1_kw, (-1, 42), range(0, 41, 5), 'Response cumulative distance (pixels)')
add_title(BOX_X[2], 6, 'sbno1', ' set1', 'KWp = 0.007')
trace_panel(LINE_X[3], 6, t_day, sbno1_s2_blk, sbno1_s2_red, 2, 3, d_lim, d_ticks,
            (-2, 85), range(0, 81, 10), dark=True)
add_title(LINE_X[3] + 3, 6, 'sbno1', ' set2', 'Day full')
box_panel(BOX_X[3], 6, sbno1_s2_kw, (-3, 150), range(0, 141, 20),
          'Response cumulative distance (pixels)', dark=True)
add_title(BOX_X[3], 6, 'sbno1', ' set1', 'KWp = 4e-4')

# ---------------- row 7 ----------------
letter(10, 1357, 'B')
letter(632, 1343, 'C')
trace_panel(52, 7, events, astn1_ev_blk, astn1_ev_red, 0.1, 0.07, (-1, 31.5), [0, 10, 20, 30],
            (0.08, 1.0), np.arange(0.2, 1.01, 0.2), ylabel='Response frequency', xlabel='Events',
            width=100)
add_title(102, 7, 'astn1', ' run2', ha='center')
trace_panel(207, 7, t_day, astn1_dp_blk, astn1_dp_red, 4, 3, d_lim, d_ticks,
            (-3, 82), range(0, 81, 10), width=100)
add_title(257, 7, 'astn1', ' run2', ha='center')
trace_panel(362, 7, t_min360, csmd3_014_blk, csmd3_014_red, 1.2, 1.0, (-12, 372),
            [0, 100, 200, 300], (-0.2, 16), range(0, 17, 2),
            ylabel='Active (dpix) second / min', xlabel='Time (min)', num='9', width=96)
add_title(360, 7, 'csmd3', ' – 0.014')
trace_panel(516, 7, t_min360, csmd3_018_blk, csmd3_018_red, 1.5, 1.0, (-12, 372),
            [0, 100, 200, 300], (-0.3, 21.5), np.arange(0, 20.1, 2.5),
            ylabel='Active (dpix) second / min', xlabel='Time (min)', num='9', width=96)
add_title(512, 7, 'csmd3', ' – 0.018')
trace_panel(670, 7, t_min165, elfn1_014_blk, elfn1_014_red, 0.025, 0.025, (-8, 172),
            [0, 50, 100, 150], (0.335, 0.622), np.arange(0.35, 0.61, 0.05),
            ylabel='Average bout rho / maximum rho / min', xlabel='Time (min)', num='4', width=98)
add_title(668, 7, 'elfn1', ' – 0.014')
trace_panel(820, 7, t_min215, hcn1_blk, hcn1_red, 0.012, 0.012, (-10, 226),
            [0, 50, 100, 150, 200], (0.445, 0.627), np.arange(0.45, 0.626, 0.025),
            ylabel='Average bout rho / maximum rho / min', xlabel='Time (min)', num='4', width=97)
add_title(817, 7, 'hcn1', ' – 0.034')
trace_panel(975, 7, t_min215, snap91_blk, snap91_red, 0.05, 0.04, (-10, 226),
            [0, 50, 100, 150, 200], (0.18, 0.91), np.arange(0.2, 0.91, 0.1),
            ylabel='Average bout rho / maximum rho / min', xlabel='Time (min)', num='6', width=93)
add_title(976, 7, 'snap91', ' – 0.001')

fig.savefig('out.png', dpi=100)
